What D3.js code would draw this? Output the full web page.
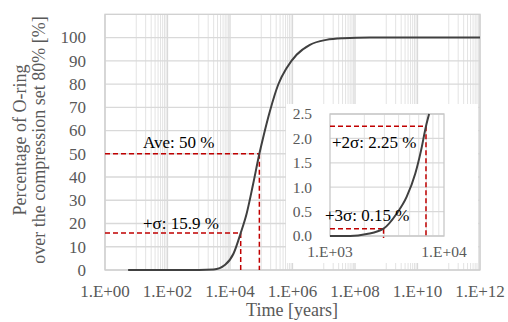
<!DOCTYPE html>
<html><head><meta charset="utf-8">
<script src="https://cdn.jsdelivr.net/npm/d3@7/dist/d3.min.js"></script>
<style>
html,body{margin:0;padding:0;background:#fff;}
svg{display:block;}
text{font-family:"Liberation Serif","Times New Roman",serif;}
</style></head>
<body>
<svg id="c" width="508" height="322"></svg>
<script>
// ---- data ----
const mainTimes  = [5.5, 100, 1000, 3000, 7000, 1.3e4, 2.2e4, 3.4e4, 5.5e4, 8.7e4, 1.2e5, 1.9e5, 3.5e5, 6.5e5, 1.35e6, 3.6e6, 1.2e7, 4.2e7, 3e8, 1e10, 1e12];
const mainValues = [0,   0,   0,    0.2,  2.25, 7.1,  15.9,  24.2,  37,    50,    58,    68.4,  79.8,  86.9,  92.6,   96.9,  99,    99.7,  100, 100,  100];
const insetTimes  = [1000, 1500, 2100, 2950, 3850, 4700, 5600, 6300, 6950, 7400];
const insetValues = [0,    0.0,  0.04, 0.15, 0.46, 0.8,  1.28, 1.76, 2.25, 2.5];
const mainTickLabels  = ["1.E+00","1.E+02","1.E+04","1.E+06","1.E+08","1.E+10","1.E+12"];
const mainTickValues  = [1, 1e2, 1e4, 1e6, 1e8, 1e10, 1e12];
const yTicks = [0,10,20,30,40,50,60,70,80,90,100];
const insetYTicks = [0.0,0.5,1.0,1.5,2.0,2.5];
const insetXTickValues = [1e3, 1e4];
const insetXTickLabels = ["1.E+03","1.E+04"];
const mainMarks  = [{label:"Ave: 50 %", t:8.7e4, v:50}, {label:"+σ: 15.9 %", t:2.2e4, v:15.9}];
const insetMarks = [{label:"+2σ: 2.25 %", t:6950, v:2.25}, {label:"+3σ: 0.15 %", t:2950, v:0.15}];

const svg = d3.select("#c");
const grey = "#595959";
const gridC = "#d9d9d9";
const FS = 17;

// ---- main scales ----
const x = d3.scaleLog().domain([1, 1e12]).range([105, 480]);
const y = d3.scaleLinear().domain([0, 110]).range([270, 14.3]);

const g = svg.append("g");
const minor = [];
for (let d = 1; d < 12; d += 2) for (let m = 1; m <= 9; m++) minor.push(m * Math.pow(10, d));
g.selectAll("line.minor").data(minor).enter().append("line")
  .attr("x1", d => x(d)).attr("x2", d => x(d)).attr("y1", y(110)).attr("y2", y(0))
  .attr("stroke", "#e3e3e3").attr("stroke-width", 1);
g.selectAll("line.major").data(mainTickValues).enter().append("line")
  .attr("x1", d => x(d)).attr("x2", d => x(d)).attr("y1", y(110)).attr("y2", y(0))
  .attr("stroke", gridC).attr("stroke-width", 1.3);
g.selectAll("line.hg").data(yTicks).enter().append("line")
  .attr("x1", x(1)).attr("x2", x(1e12)).attr("y1", d => y(d)).attr("y2", d => y(d))
  .attr("stroke", gridC).attr("stroke-width", 1.3);
g.append("rect").attr("x", x(1)).attr("y", y(110)).attr("width", x(1e12) - x(1)).attr("height", y(0) - y(110))
  .attr("fill", "none").attr("stroke", "#cfcfcf").attr("stroke-width", 1.3);

g.selectAll("text.yl").data(yTicks).enter().append("text")
  .attr("x", 86).attr("y", d => y(d)).attr("dy", "0.35em").attr("text-anchor", "end")
  .attr("font-size", FS).attr("fill", grey).text(d => d);
g.selectAll("text.xl").data(mainTickValues).enter().append("text")
  .attr("x", d => x(d)).attr("y", 297).attr("text-anchor", "middle")
  .attr("font-size", FS).attr("fill", grey).text((d, i) => mainTickLabels[i]);
svg.append("text").attr("x", 292).attr("y", 316).attr("text-anchor", "middle")
  .attr("font-size", 18).attr("fill", grey).text("Time [years]");
const yt = svg.append("text").attr("transform", "translate(0,140) rotate(-90)")
  .attr("text-anchor", "middle").attr("font-size", 18).attr("fill", grey);
yt.append("tspan").attr("x", 0).attr("y", 26).text("Percentage of O-ring");
yt.append("tspan").attr("x", 0).attr("y", 45).text("over the compression set 80% [%]");

const red = "#c00000";
mainMarks.forEach(m => {
  g.append("line").attr("x1", x(1)).attr("x2", x(m.t)).attr("y1", y(m.v)).attr("y2", y(m.v))
    .attr("stroke", red).attr("stroke-width", 1.5).attr("stroke-dasharray", "5,3");
  g.append("line").attr("x1", x(m.t)).attr("x2", x(m.t)).attr("y1", y(m.v)).attr("y2", y(0))
    .attr("stroke", red).attr("stroke-width", 1.5).attr("stroke-dasharray", "5,3");
});
g.append("text").attr("x", 143).attr("y", 148).attr("font-size", FS).attr("fill", "#000").text(mainMarks[0].label);
g.append("text").attr("x", 143).attr("y", 229).attr("font-size", FS).attr("fill", "#000").text(mainMarks[1].label);

const mainData = mainTimes.map((t, i) => [t, mainValues[i]]);
g.append("path").datum(mainData)
  .attr("d", d3.line().x(d => x(d[0])).y(d => y(d[1])).curve(d3.curveMonotoneX))
  .attr("fill", "none").attr("stroke", "#404040").attr("stroke-width", 2);

// ---- inset ----
svg.append("rect").attr("x", 286).attr("y", 104).attr("width", 192).attr("height", 159).attr("fill", "#fff");
const xi = d3.scaleLog().domain([1e3, 1e4]).range([330, 444]);
const yi = d3.scaleLinear().domain([0, 2.5]).range([236, 114]);
const gi = svg.append("g");
const minorI = [2,3,4,5,6,7,8,9].map(m => m * 1e3);
gi.selectAll("line.vm").data(minorI).enter().append("line")
  .attr("x1", d => xi(d)).attr("x2", d => xi(d)).attr("y1", yi(2.5)).attr("y2", yi(0))
  .attr("stroke", "#e3e3e3").attr("stroke-width", 1);
gi.selectAll("line.hg").data(insetYTicks).enter().append("line")
  .attr("x1", xi(1e3)).attr("x2", xi(1e4)).attr("y1", d => yi(d)).attr("y2", d => yi(d))
  .attr("stroke", gridC).attr("stroke-width", 1.3);
gi.append("rect").attr("x", xi(1e3)).attr("y", yi(2.5)).attr("width", xi(1e4) - xi(1e3)).attr("height", yi(0) - yi(2.5))
  .attr("fill", "none").attr("stroke", "#c8c8c8").attr("stroke-width", 1.3);
gi.selectAll("text.yl").data(insetYTicks).enter().append("text")
  .attr("x", 312).attr("y", d => yi(d)).attr("dy", "0.35em").attr("text-anchor", "end")
  .attr("font-size", 15.5).attr("fill", grey).text(d => d.toFixed(1));
gi.selectAll("text.xl").data(insetXTickValues).enter().append("text")
  .attr("x", d => xi(d)).attr("y", 257).attr("text-anchor", "middle")
  .attr("font-size", 15.5).attr("fill", grey).text((d, i) => insetXTickLabels[i]);

insetMarks.forEach(m => {
  gi.append("line").attr("x1", xi(1e3)).attr("x2", xi(m.t)).attr("y1", yi(m.v)).attr("y2", yi(m.v))
    .attr("stroke", red).attr("stroke-width", 1.5).attr("stroke-dasharray", "5,3");
  gi.append("line").attr("x1", xi(m.t)).attr("x2", xi(m.t)).attr("y1", yi(m.v)).attr("y2", yi(0) + 2)
    .attr("stroke", red).attr("stroke-width", 1.5).attr("stroke-dasharray", "5,3");
});
const insetData = insetTimes.map((t, i) => [t, insetValues[i]]);
gi.append("path").datum(insetData)
  .attr("d", d3.line().x(d => xi(d[0])).y(d => yi(d[1])).curve(d3.curveMonotoneX))
  .attr("fill", "none").attr("stroke", "#404040").attr("stroke-width", 2);
gi.append("text").attr("x", 332).attr("y", 148).attr("font-size", FS).attr("fill", "#000").text(insetMarks[0].label);
gi.append("text").attr("x", 325).attr("y", 221).attr("font-size", FS).attr("fill", "#000").text(insetMarks[1].label);
</script>
</body></html>
